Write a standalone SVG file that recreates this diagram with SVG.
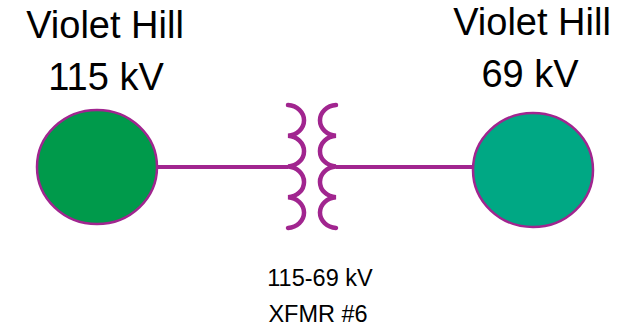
<svg xmlns="http://www.w3.org/2000/svg" width="621" height="326" viewBox="0 0 621 326">
<style>
.lbl{font-family:"Liberation Sans",Arial,sans-serif;fill:#000;text-anchor:middle}
.big{font-size:38px}
.small{font-size:23.5px}
.wire{stroke:#A1258F;stroke-width:4;fill:none}
.coil{stroke:#A1258F;stroke-width:4.5;fill:none;stroke-linecap:round}
.bus{stroke:#A1258F;stroke-width:2.5}
</style>
<rect width="621" height="326" fill="#fff"/>
<g id="connectors">
<line class="wire" x1="157" y1="167" x2="288" y2="167"/>
<line class="wire" x1="336" y1="167" x2="473" y2="167"/>
</g>
<g id="bus-115">
<ellipse class="bus" cx="97" cy="167" rx="60" ry="57" fill="#009A4B"/>
<text class="lbl big" x="105" y="38">Violet Hill</text>
<text class="lbl big" x="106" y="90">115 kV</text>
</g>
<g id="bus-69">
<ellipse class="bus" cx="533" cy="170" rx="60" ry="57" fill="#00A884"/>
<text class="lbl big" x="532" y="35">Violet Hill</text>
<text class="lbl big" x="530" y="87">69 kV</text>
</g>
<g id="xfmr6">
<path class="coil" d="M288,105 a17,15.4 0 0 1 0,30.75 a17,15.4 0 0 1 0,30.75 a17,15.4 0 0 1 0,30.75 a17,15.4 0 0 1 0,30.75"/>
<path class="coil" d="M336,105 a17,15.4 0 0 0 0,30.75 a17,15.4 0 0 0 0,30.75 a17,15.4 0 0 0 0,30.75 a17,15.4 0 0 0 0,30.75"/>
<text class="lbl small" x="320" y="286">115-69 kV</text>
<text class="lbl small" x="318" y="322">XFMR #6</text>
</g>
</svg>
